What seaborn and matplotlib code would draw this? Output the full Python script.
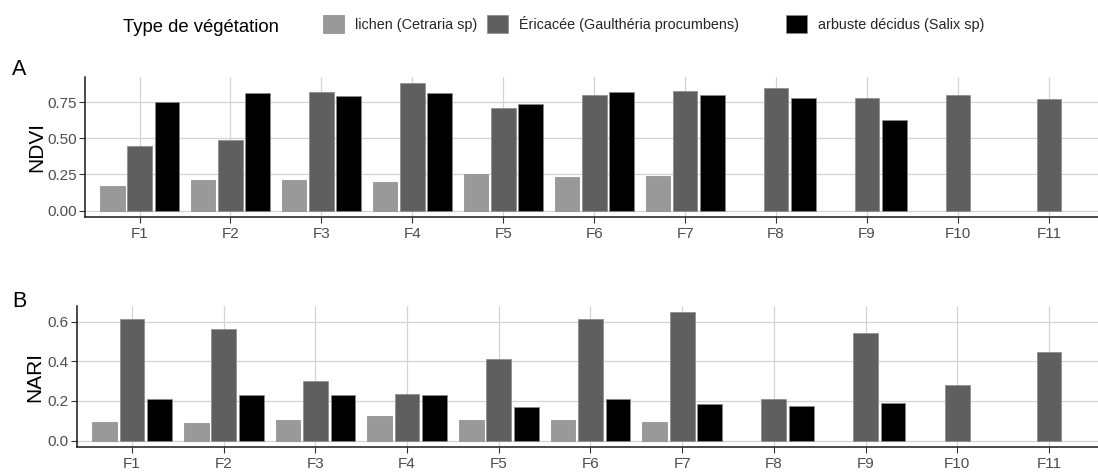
import numpy as np
import pandas as pd
import matplotlib
matplotlib.use("Agg")
import matplotlib.pyplot as plt
from matplotlib.patches import Patch
import seaborn as sns

# ---- data -------------------------------------------------------------
sites = ["F1", "F2", "F3", "F4", "F5", "F6", "F7", "F8", "F9", "F10", "F11"]
types = ["lichen (Cetraria sp)",
         "Éricacée (Gaulthéria procumbens)",
         "arbuste décidus (Salix sp)"]

ndvi_lichen = [0.17, 0.21, 0.21, 0.20, 0.25, 0.23, 0.24, None, None, None, None]
ndvi_ericacee = [0.45, 0.49, 0.82, 0.88, 0.71, 0.80, 0.83, 0.85, 0.78, 0.80, 0.77]
ndvi_arbuste = [0.75, 0.81, 0.79, 0.81, 0.74, 0.82, 0.80, 0.78, 0.63, None, None]

nari_lichen = [0.096, 0.091, 0.103, 0.123, 0.103, 0.103, 0.092, None, None, None, None]
nari_ericacee = [0.613, 0.565, 0.303, 0.235, 0.413, 0.613, 0.647, 0.212, 0.541, 0.281, 0.445]
nari_arbuste = [0.208, 0.230, 0.230, 0.230, 0.168, 0.208, 0.187, 0.175, 0.192, None, None]

palette = {types[0]: "#999999", types[1]: "#5f5f5f", types[2]: "#000000"}

DODGE_STEP = 0.3   # 0.9 group width split over three bars
BAR_FRAC = 0.9     # bar width relative to the dodge step


def long_table(series):
    """Long-format table; bars present at a site are centred on its tick."""
    rows = []
    for i, site in enumerate(sites):
        present = [(t, s[i]) for t, s in zip(types, series) if s is not None]
        n = len(present)
        for k, (t, v) in enumerate(present):
            pos = i + (k - (n - 1) / 2) * DODGE_STEP
            rows.append({"site": site, "type": t, "value": v, "pos": round(pos, 6)})
    return pd.DataFrame(rows)


ndvi = long_table([ndvi_lichen, ndvi_ericacee, ndvi_arbuste])
nari = long_table([nari_lichen, nari_ericacee, nari_arbuste])

# ---- style ------------------------------------------------------------
sns.set_theme(style="white")
plt.rcParams["font.family"] = ["Liberation Sans", "DejaVu Sans"]

W, H = 1098, 472
fig = plt.figure(figsize=(W / 100, H / 100), dpi=100)

GRID = "#d3d3d3"
TICK_TXT = "#4d4d4d"
EDGE = "#8a8a8a"


def px_axes(left, top, bottom, right=W):
    return fig.add_axes([left / W, 1 - bottom / H, (right - left) / W, (bottom - top) / H])


def draw_panel(ax, df, ylabel, yticks, yfmt, xlim, label_x_px, left_px):
    sns.barplot(data=df, x="pos", y="value", hue="type", hue_order=types,
                palette=palette, native_scale=True, dodge=False,
                width=BAR_FRAC, errorbar=None, legend=False,
                edgecolor=EDGE, linewidth=0.5, ax=ax, zorder=3)
    ymax = df["value"].max()
    ax.set_ylim(-0.05 * ymax, 1.05 * ymax)
    ax.set_xlim(*xlim)
    ax.set_xticks(range(len(sites)))
    ax.set_xticklabels(sites)
    ax.set_yticks(yticks)
    ax.set_yticklabels([yfmt.format(v) for v in yticks])
    ax.set_xlabel("")
    ax.set_ylabel(ylabel, fontsize=15, color="black")
    ax.yaxis.set_label_coords((label_x_px - left_px) / (W - left_px), 0.5)
    ax.grid(True, color=GRID, linewidth=0.9, zorder=0)
    ax.set_axisbelow(True)
    for side in ("top", "right"):
        ax.spines[side].set_visible(False)
    for side in ("left", "bottom"):
        ax.spines[side].set_color("#1a1a1a")
        ax.spines[side].set_linewidth(1.1)
    ax.tick_params(axis="both", which="major", length=4, width=0.8,
                   color="#333333", labelcolor=TICK_TXT, labelsize=11,
                   left=True, bottom=True, pad=2)
    ax.tick_params(axis="x", pad=3)


axA = px_axes(85, 77, 217)
draw_panel(axA, ndvi, "NDVI", [0, 0.25, 0.5, 0.75], "{:.2f}", (-0.6, 10.54), 46, 85)

axB = px_axes(77, 306, 447)
draw_panel(axB, nari, "NARI", [0, 0.2, 0.4, 0.6], "{:.1f}", (-0.6, 10.535), 44, 77)

# panel tags
fig.text(12 / W, 1 - 75 / H, "A", fontsize=15.5, color="black", va="baseline")
fig.text(12 / W, 1 - 307 / H, "B", fontsize=15.5, color="black", va="baseline")

# legend across the top: title, then one entry per vegetation type
fig.text(123 / W, 1 - 27 / H, "Type de végétation", fontsize=13.3,
         color="black", va="center")
key_left_px = [323, 487, 786]
for t, kx in zip(types, key_left_px):
    h = Patch(facecolor=palette[t], edgecolor=EDGE, linewidth=0.5)
    fig.legend([h], [t], loc="center left", bbox_to_anchor=(kx / W, 1 - 24 / H),
               frameon=False, fontsize=10.4, handlelength=1.45, handleheight=1.55,
               handletextpad=0.75, borderaxespad=0, borderpad=0)

fig.savefig("out.png", dpi=100)
